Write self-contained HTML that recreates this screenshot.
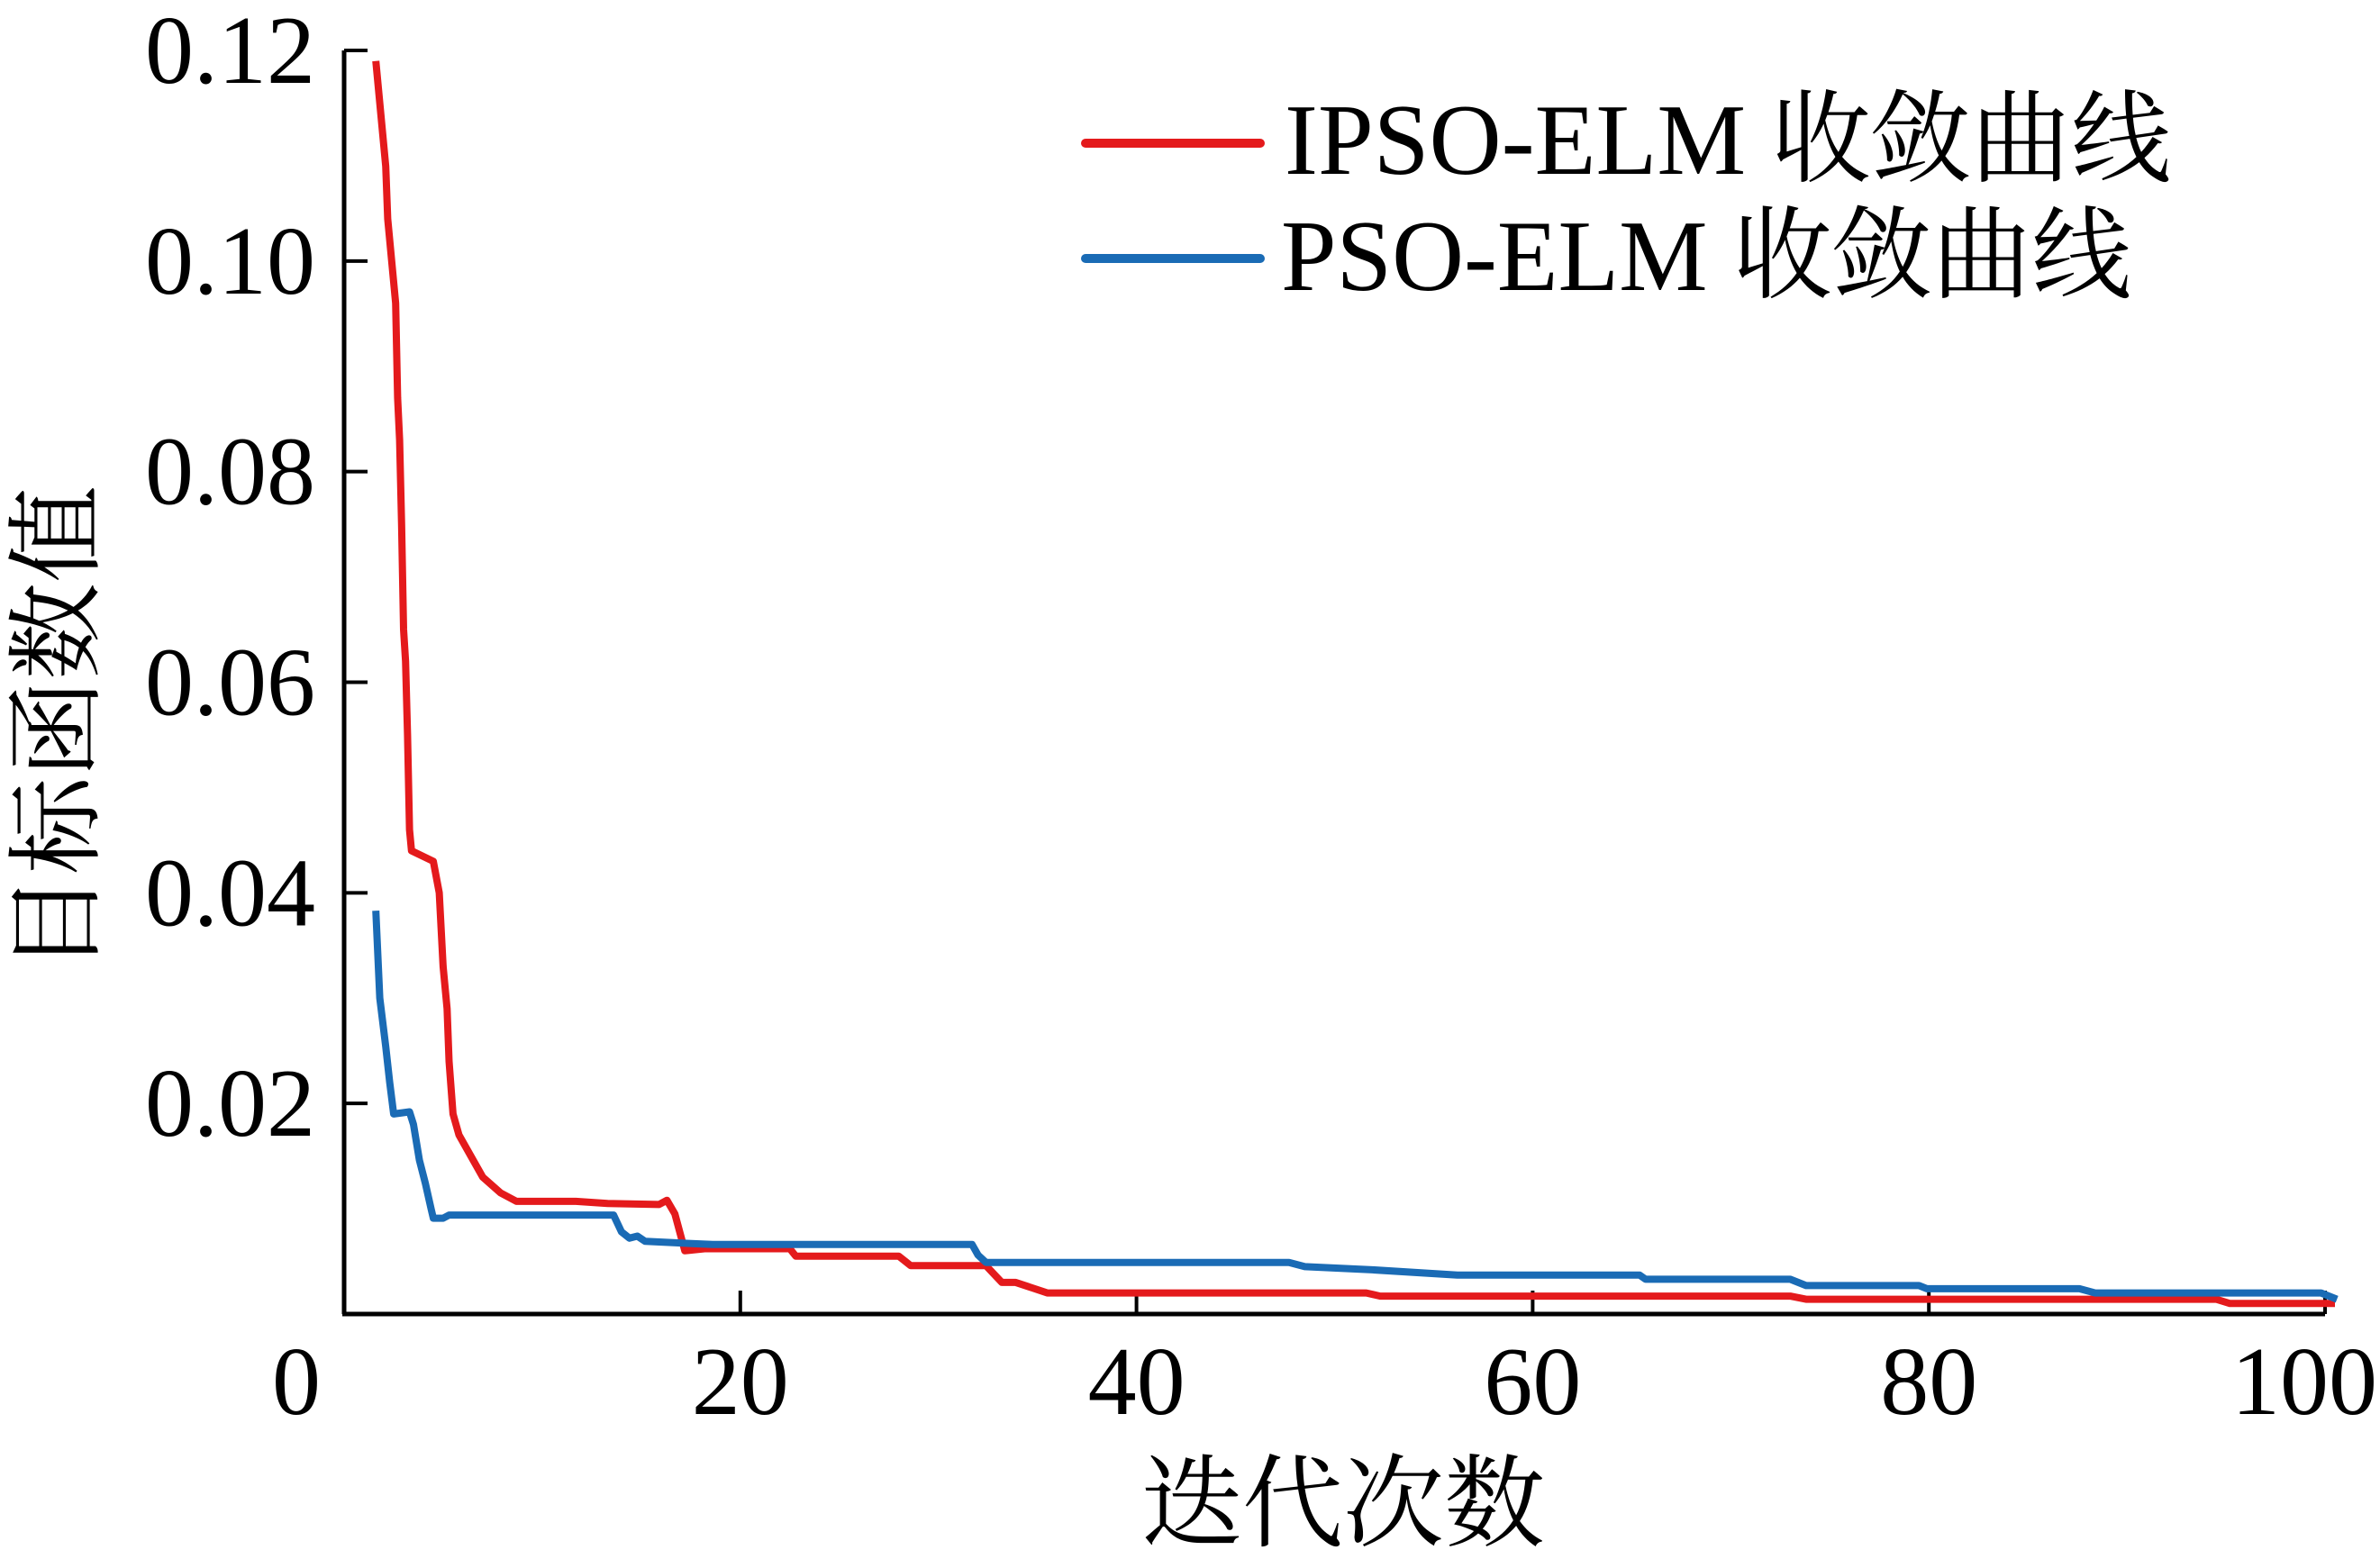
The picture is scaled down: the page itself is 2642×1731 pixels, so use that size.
<!DOCTYPE html>
<html><head><meta charset="utf-8"><style>
html,body{margin:0;padding:0;background:#fff;}
svg{display:block;}
text{font-family:"Liberation Serif","Noto Serif CJK SC",serif;fill:#000;}
</style></head><body>
<svg id="chart" width="2642" height="1731" viewBox="0 0 2642 1731" xmlns="http://www.w3.org/2000/svg">
<g id="axes"></g>
<g id="series"></g>
<g id="legend">
  <line x1="1205" y1="159" x2="1399" y2="159" stroke="#e41a1c" stroke-width="10" stroke-linecap="round"/>
  <text x="1426" y="193" font-size="112" textLength="984" lengthAdjust="spacingAndGlyphs">IPSO-ELM 收敛曲线</text>
  <line x1="1205" y1="287" x2="1399" y2="287" stroke="#1a6bb5" stroke-width="10" stroke-linecap="round"/>
  <text x="1422" y="322" font-size="112" textLength="944" lengthAdjust="spacingAndGlyphs">PSO-ELM 收敛曲线</text>
</g>
<text x="1491" y="1708" font-size="112" text-anchor="middle">迭代次数</text>
<text transform="translate(100,809) rotate(-90)" font-size="108" text-anchor="middle">目标函数值</text>
</svg>
<script>
const xTicks = [0, 20, 40, 60, 80, 100];
const xTickLabels = ["0", "20", "40", "60", "80", "100"];
const yTicks = [0.02, 0.04, 0.06, 0.08, 0.10, 0.12];
const yTickLabels = ["0.02", "0.04", "0.06", "0.08", "0.10", "0.12"];
const ipsoIter = [1.6,1.8,2.1,2.2,2.6,2.7,2.8,2.9,3.0,3.1,3.2,3.3,3.4,4.5,4.8,5.0,5.2,5.3,5.5,5.8,6.4,7.0,7.9,8.7,11.7,13.3,15.9,16.3,16.7,17.2,18.2,22.5,22.8,28.0,28.6,32.4,33.2,33.9,35.5,51.6,52.3,73.0,73.8,94.5,95.2,100.5];
const ipsoVal = [0.119,0.115,0.109,0.104,0.096,0.087,0.083,0.075,0.065,0.062,0.055,0.046,0.044,0.043,0.040,0.033,0.029,0.024,0.019,0.017,0.015,0.013,0.0115,0.0107,0.0107,0.0105,0.0104,0.0108,0.0095,0.006,0.0062,0.0062,0.0055,0.0055,0.0046,0.0046,0.003,0.003,0.002,0.002,0.0017,0.0017,0.0014,0.0014,0.001,0.001];
const psoIter = [1.6,1.8,2.1,2.3,2.5,3.3,3.5,3.8,4.1,4.4,4.5,5.0,5.3,13.6,14.0,14.4,14.8,15.2,18.6,31.7,32.0,32.4,47.7,48.5,51.9,56.2,65.4,65.7,73.0,73.8,79.5,79.9,87.6,88.4,99.8,100.6];
const psoVal = [0.0383,0.030,0.0254,0.022,0.019,0.0192,0.018,0.0146,0.0124,0.0099,0.0091,0.0091,0.0094,0.0094,0.0078,0.0072,0.0074,0.0069,0.0066,0.0066,0.0056,0.0049,0.0049,0.0045,0.0042,0.0037,0.0037,0.0033,0.0033,0.0027,0.0027,0.0024,0.0024,0.002,0.002,0.0014];

const X0 = 382, X1 = 2581, Y0 = 1459, Y1 = 56;
function xs(v){ return X0 + (v - 0) / 100 * (X1 - X0); }
function ys(v){ return Y0 - v / 0.12 * (Y0 - Y1); }
const NS = "http://www.w3.org/2000/svg";
function mk(tag, attrs, parent){ const e = document.createElementNS(NS, tag); for (const k in attrs) e.setAttribute(k, attrs[k]); parent.appendChild(e); return e; }
const axes = document.getElementById('axes');
const yAxis = mk('path', {d:`M${X0},${Y1} V${Y0}`, stroke:'#000', 'stroke-width':5, fill:'none'}, axes);


const xAxis = mk('path', {d:`M${X0-2},${Y0} H${X1}`, stroke:'#000', 'stroke-width':5, fill:'none'}, axes);


xTicks.forEach((t, i) => {
  if (t > 0) {
    const tk = mk('line', {x1:xs(t), x2:xs(t), y1:Y0, y2:Y0-26, stroke:'#000', 'stroke-width':4}, axes);
    
    
  }
  let off = 0;
  if (i === 0) off = -53;
  if (i === xTicks.length - 1) off = -23;
  const lb = mk('text', {x:xs(t) + off, y:1570, 'font-size':108, 'text-anchor':'middle'}, axes);
  lb.textContent = xTickLabels[i];
  
  
});
yTicks.forEach((t, i) => {
  const tk = mk('line', {x1:X0, x2:X0+26, y1:ys(t), y2:ys(t), stroke:'#000', 'stroke-width':4}, axes);
  
  
  const lb = mk('text', {x:350, y:ys(t)+36, 'font-size':108, 'text-anchor':'end'}, axes);
  lb.textContent = yTickLabels[i];
  
  
});
const series = document.getElementById('series');
function draw(iter, vals, color, name){
  const d = iter.map((v, i) => (i ? 'L' : 'M') + xs(v).toFixed(1) + ',' + ys(vals[i]).toFixed(1)).join(' ');
  const p = mk('path', {d:d, stroke:color, 'stroke-width':8, fill:'none', 'stroke-linejoin':'round'}, series);
  
  
}
draw(ipsoIter, ipsoVal, '#e41a1c', 'ipso-elm-curve');
draw(psoIter, psoVal, '#1a6bb5', 'pso-elm-curve');
</script>
</body></html>
